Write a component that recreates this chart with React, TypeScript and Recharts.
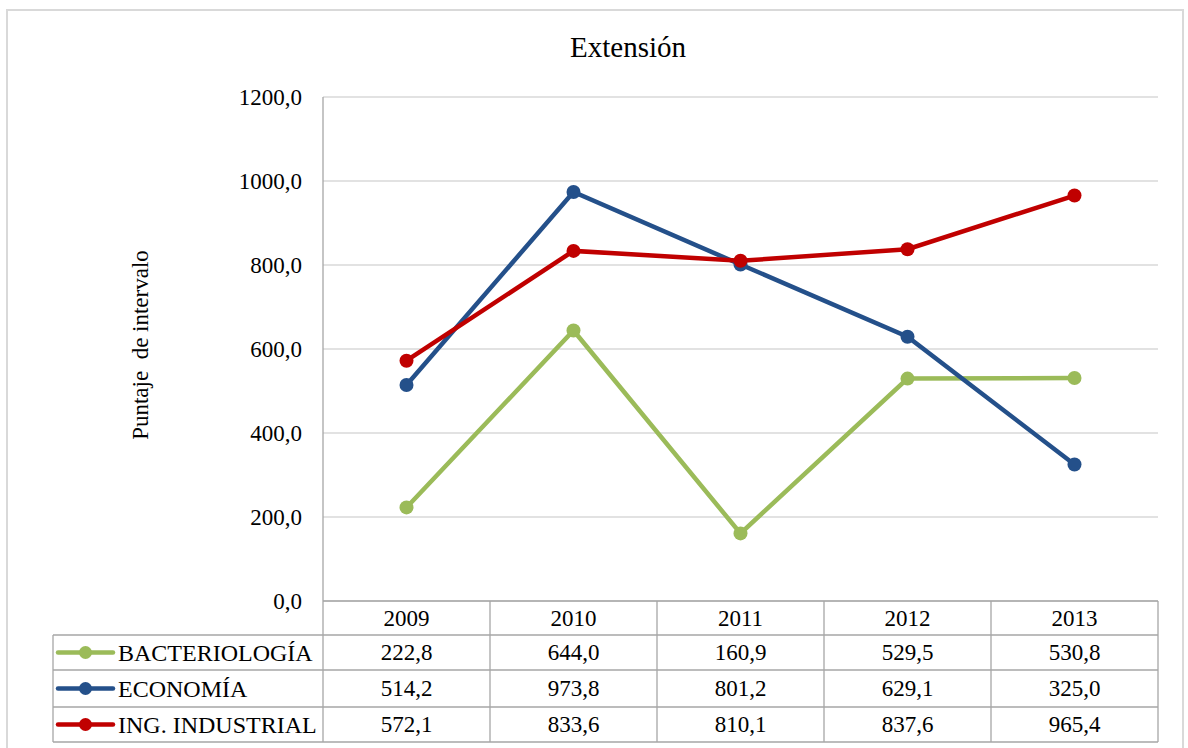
import React from 'react';
import { LineChart, Line, XAxis, YAxis, CartesianGrid } from 'recharts';

const years = ['2009', '2010', '2011', '2012', '2013'];
const bacteriologia = [222.8, 644.0, 160.9, 529.5, 530.8];
const economia = [514.2, 973.8, 801.2, 629.1, 325.0];
const ingIndustrial = [572.1, 833.6, 810.1, 837.6, 965.4];
const yTicks = [0, 200, 400, 600, 800, 1000, 1200];

const seriesList = [
  { key: 'bact', name: 'BACTERIOLOGÍA', color: '#9BBB59', values: bacteriologia },
  { key: 'econ', name: 'ECONOMÍA', color: '#24508A', values: economia },
  { key: 'ing', name: 'ING. INDUSTRIAL', color: '#C00000', values: ingIndustrial },
];

const data = years.map((y, i) => ({
  year: y,
  bact: bacteriologia[i],
  econ: economia[i],
  ing: ingIndustrial[i],
}));

const fmt = (v: number) => v.toFixed(1).replace('.', ',');

const FONT = '"Liberation Serif", "Times New Roman", serif';
const BORDER = '#A6A6A6';
const HALF = 83.5;
const ROW_TOPS = [0, 34, 69, 106, 141];
const LEG_W = 270;

const TableTick = (props: any) => {
  const { x, y, payload, index } = props;
  const top = y;
  const idx = years.indexOf(payload.value);
  const els: any[] = [];
  els.push(<line key="r" x1={x + HALF} x2={x + HALF} y1={top} y2={top + ROW_TOPS[4]} stroke={BORDER} strokeWidth={1.3} />);
  if (index === 0) {
    els.push(<line key="l" x1={x - HALF} x2={x - HALF} y1={top} y2={top + ROW_TOPS[4]} stroke={BORDER} strokeWidth={1.3} />);
    els.push(<line key="ll" x1={x - HALF - LEG_W} x2={x - HALF - LEG_W} y1={top + ROW_TOPS[1]} y2={top + ROW_TOPS[4]} stroke={BORDER} strokeWidth={1.3} />);
    for (let r = 1; r < 5; r++) {
      els.push(<line key={'lh' + r} x1={x - HALF - LEG_W} x2={x - HALF} y1={top + ROW_TOPS[r]} y2={top + ROW_TOPS[r]} stroke={BORDER} strokeWidth={1.3} />);
    }
    seriesList.forEach((s, si) => {
      const cy = top + (ROW_TOPS[si + 1] + ROW_TOPS[si + 2]) / 2;
      const lx = x - HALF - LEG_W + 5;
      els.push(<line key={'ml' + si} x1={lx} x2={lx + 55} y1={cy} y2={cy} stroke={s.color} strokeWidth={4.5} strokeLinecap="round" />);
      els.push(<circle key={'mc' + si} cx={lx + 27.5} cy={cy} r={6.5} fill={s.color} />);
      els.push(<text key={'mt' + si} x={lx + 60} y={cy} dominantBaseline="central" fontSize={24} style={{ fontFamily: FONT }} fill="#000">{s.name}</text>);
    });
  }
  for (let r = 1; r < 5; r++) {
    els.push(<line key={'h' + r} x1={x - HALF} x2={x + HALF} y1={top + ROW_TOPS[r]} y2={top + ROW_TOPS[r]} stroke={BORDER} strokeWidth={1.3} />);
  }
  els.push(<text key="yr" x={x} y={top + 17} textAnchor="middle" dominantBaseline="central" fontSize={23} style={{ fontFamily: FONT }} fill="#000">{payload.value}</text>);
  seriesList.forEach((s, si) => {
    const cy = top + (ROW_TOPS[si + 1] + ROW_TOPS[si + 2]) / 2;
    els.push(<text key={'v' + si} x={x} y={cy} textAnchor="middle" dominantBaseline="central" fontSize={23} style={{ fontFamily: FONT }} fill="#000">{fmt(s.values[idx])}</text>);
  });
  return <g>{els}</g>;
};

const YLabel = () => (
  <text
    x={140}
    y={345}
    transform="rotate(-90 140 345)"
    textAnchor="middle"
    dominantBaseline="central"
    fontSize={23}
    style={{ fontFamily: FONT, whiteSpace: 'pre' }}
    fill="#000"
  >
    {'Puntaje  de intervalo'}
  </text>
);

export default function App() {
  return (
    <div style={{ position: 'absolute', left: 0, top: 0, width: 1188, height: 748, background: '#fff', fontFamily: FONT, overflow: 'hidden' }}>
      <div style={{ position: 'absolute', left: 6, top: 9, width: 1178, height: 760, border: '2px solid #D9D9D9', boxSizing: 'border-box' }} />
      <div style={{ position: 'absolute', left: 0, width: 1256, top: 30, textAlign: 'center', fontSize: 29, lineHeight: '34px', color: '#000', fontFamily: FONT }}>
        Extensión
      </div>
      <div style={{ position: 'absolute', left: 0, top: 0 }}>
        <LineChart width={1188} height={748} data={data} margin={{ top: 97, right: 30, bottom: 7, left: 223 }}>
          <CartesianGrid horizontal={true} vertical={false} stroke="#D9D9D9" strokeWidth={1.3} />
          <XAxis
            dataKey="year"
            height={140}
            padding={{ left: HALF, right: HALF }}
            axisLine={{ stroke: BORDER, strokeWidth: 1.3 }}
            tickLine={false}
            tickSize={0}
            tickMargin={0}
            interval={0}
            tick={<TableTick />}
          />
          <YAxis
            width={100}
            domain={[0, 1200]}
            ticks={yTicks}
            tickFormatter={fmt}
            axisLine={{ stroke: BORDER, strokeWidth: 1.3 }}
            tickLine={false}
            tickSize={0}
            tickMargin={21}
            tick={{ fontSize: 23, fontFamily: FONT, fill: '#000' }}
            label={{ content: () => <YLabel /> }}
          />
          {seriesList.map((s) => (
            <Line
              key={s.key}
              dataKey={s.key}
              name={s.name}
              stroke={s.color}
              strokeWidth={4.5}
              dot={{ r: 7, fill: s.color, stroke: s.color, strokeWidth: 0 }}
              isAnimationActive={false}
            />
          ))}
        </LineChart>
      </div>
    </div>
  );
}
